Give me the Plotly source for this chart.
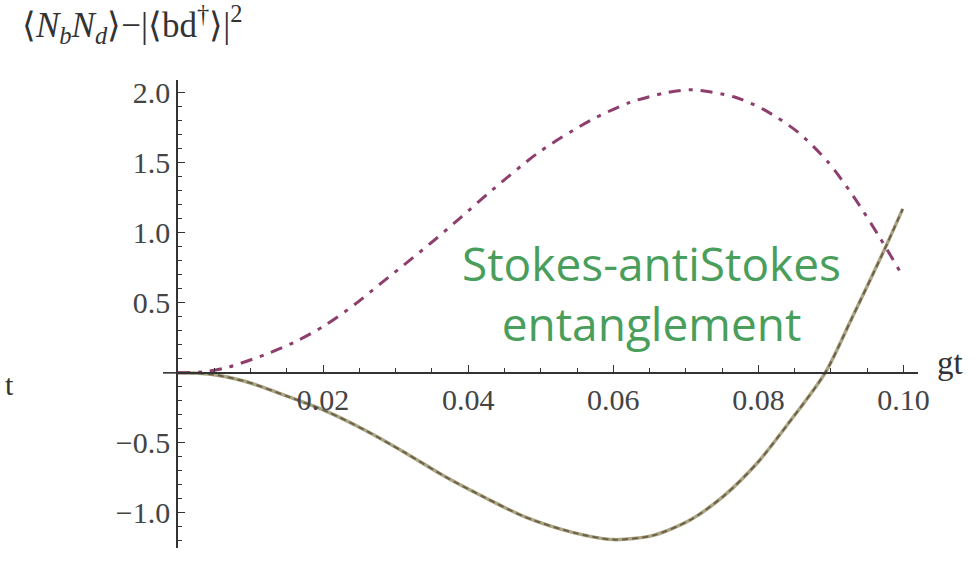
import plotly.graph_objects as go

# ---- data ----
gt_purple = [0, 0.004, 0.0069, 0.012, 0.0161, 0.0203, 0.0244, 0.028, 0.0321, 0.0354,
             0.039, 0.0432, 0.0499, 0.0568, 0.0623, 0.0674, 0.071, 0.0766, 0.0807,
             0.0854, 0.0895, 0.0931, 0.0968, 0.0999]
val_purple = [0, 0.01, 0.04, 0.13, 0.22, 0.34, 0.49, 0.64, 0.81, 0.95,
              1.11, 1.30, 1.58, 1.80, 1.93, 2.00, 2.02, 1.97, 1.88,
              1.72, 1.51, 1.26, 0.96, 0.69]

gt_olive = [0, 0.0045, 0.0092, 0.0152, 0.0207, 0.0258, 0.0313, 0.0368, 0.0423,
            0.0479, 0.0545, 0.06, 0.0655, 0.0706, 0.0752, 0.0799, 0.084, 0.0892,
            0.0927, 0.0972, 0.0999]
val_olive = [0, -0.01, -0.06, -0.17, -0.28, -0.41, -0.57, -0.74, -0.89,
             -1.03, -1.14, -1.19, -1.16, -1.05, -0.88, -0.64, -0.37, 0.0,
             0.37, 0.86, 1.17]

x_tickvals = [0.02, 0.04, 0.06, 0.08, 0.10]
x_ticktext = ["0.02", "0.04", "0.06", "0.08", "0.10"]
y_tickvals = [-1.0, -0.5, 0.5, 1.0, 1.5, 2.0]
y_ticktext = ["\u22121.0", "\u22120.5", "0.5", "1.0", "1.5", "2.0"]

y_title = "\u27e8<i>N</i><sub><i>b</i></sub><i>N</i><sub><i>d</i></sub>\u27e9\u2212|\u27e8bd<sup>\u2020</sup>\u27e9|<sup>2</sup>"
x_title = "gt"
note_text = "Stokes-antiStokes<br>entanglement"

X_RANGE = [0, 0.102]
Y_RANGE = [-1.25, 2.09]

fig = go.Figure()

fig.add_trace(go.Scatter(
    x=gt_olive, y=val_olive, mode="lines", line_shape="spline", line_smoothing=0.8,
    line=dict(color="rgb(168,166,132)", width=3.5), hoverinfo="skip", showlegend=False))
fig.add_trace(go.Scatter(
    x=gt_olive, y=val_olive, mode="lines", line_shape="spline", line_smoothing=0.8,
    line=dict(color="rgb(112,96,72)", width=2, dash="6px,4px"), hoverinfo="skip", showlegend=False))
fig.add_trace(go.Scatter(
    x=gt_purple, y=val_purple, mode="lines", line_shape="spline", line_smoothing=0.8,
    line=dict(color="rgb(142,62,108)", width=3, dash="12px,8px,4px,8px"),
    hoverinfo="skip", showlegend=False))

serif = "Liberation Serif, Times New Roman, serif"
tickfont = dict(family=serif, size=30, color="#444444")
axis_color = "#333333"

fig.update_layout(
    width=980, height=561,
    margin=dict(l=178, r=62, t=80, b=13),
    paper_bgcolor="white", plot_bgcolor="white",
    xaxis=dict(
        range=X_RANGE, showgrid=False, zeroline=False,
        anchor="free", position=(0 - Y_RANGE[0]) / (Y_RANGE[1] - Y_RANGE[0]),
        showline=True, linecolor=axis_color, linewidth=1.6,
        ticks="inside", ticklen=7, tickwidth=1.3, tickcolor=axis_color,
        tickvals=x_tickvals, ticktext=x_ticktext, tickfont=tickfont,
        minor=dict(ticks="inside", ticklen=4, tickwidth=1, tickcolor=axis_color,
                   dtick=0.005, tick0=0, showgrid=False),
        automargin=False, fixedrange=True,
    ),
    yaxis=dict(
        range=Y_RANGE, showgrid=False, zeroline=False,
        showline=True, linecolor=axis_color, linewidth=1.6,
        ticks="inside", ticklen=7, tickwidth=1.3, tickcolor=axis_color,
        tickvals=y_tickvals, ticktext=y_ticktext, tickfont=tickfont,
        minor=dict(ticks="inside", ticklen=4, tickwidth=1, tickcolor=axis_color,
                   dtick=0.1, tick0=0, showgrid=False),
        automargin=False, fixedrange=True,
    ),
    showlegend=False,
)

# small extension of the horizontal axis to the left of the vertical axis
fig.add_shape(type="line", xref="paper", yref="y", x0=-15 / 740, x1=0, y0=0, y1=0,
              line=dict(color=axis_color, width=1.6))

fig.add_annotation(text=y_title, xref="paper", yref="paper",
                   x=(20 - 178) / 740, y=1 + (80 + 2) / 468,
                   xanchor="left", yanchor="top", showarrow=False,
                   font=dict(family=serif, size=35, color="#333333"))
fig.add_annotation(text=x_title, xref="paper", yref="y",
                   x=(935 - 178) / 740, y=0.07, xanchor="left", yanchor="middle",
                   showarrow=False, font=dict(family=serif, size=33, color="#333333"))
fig.add_annotation(text="t", xref="paper", yref="y",
                   x=(3 - 178) / 740, y=-0.08, xanchor="left", yanchor="middle",
                   showarrow=False, font=dict(family=serif, size=30, color="#333333"))
fig.add_annotation(text=note_text, xref="x", yref="y",
                   x=0.0652, y=0.57, xanchor="center", yanchor="middle",
                   showarrow=False,
                   font=dict(family="Open Sans, Lato, sans-serif", size=46, color="#4a9e5c"))

fig.write_html("out.html")
